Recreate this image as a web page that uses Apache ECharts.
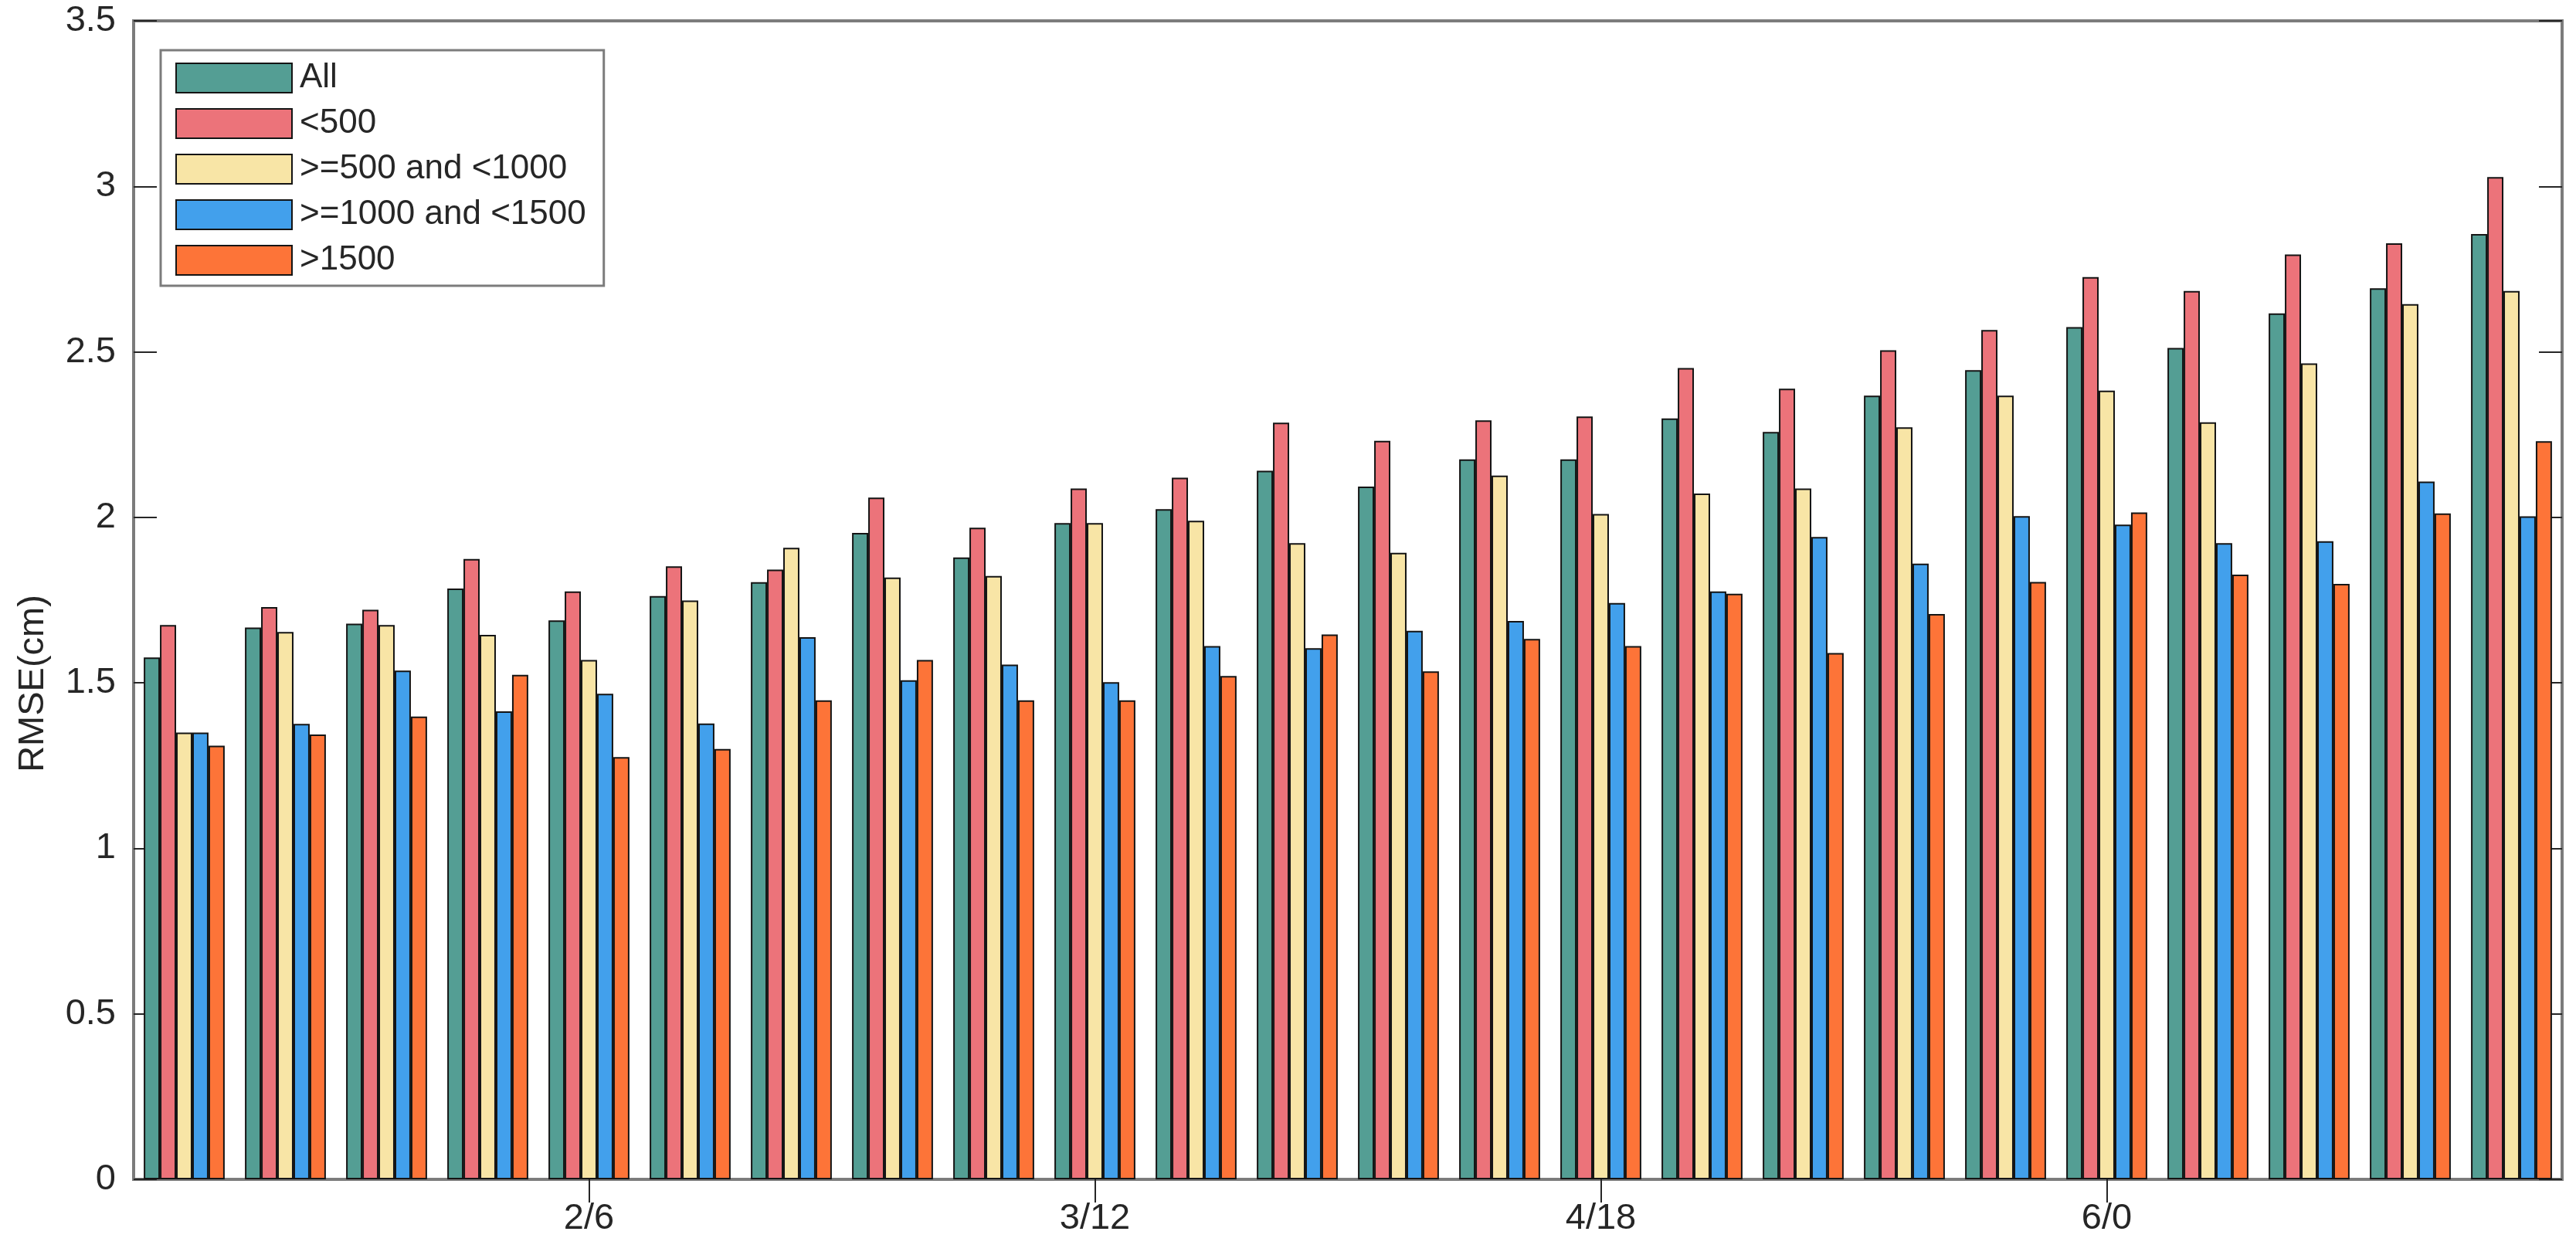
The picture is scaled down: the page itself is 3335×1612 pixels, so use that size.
<!DOCTYPE html>
<html>
<head>
<meta charset="utf-8">
<script src="https://cdn.jsdelivr.net/npm/echarts@6/dist/echarts.min.js"></script>
<style>
html,body{margin:0;padding:0;background:#fff;}
#chart{width:3335px;height:1612px;}
</style>
</head>
<body>
<div id="chart"></div>
<script>
// Time categories (day/hour), 6-hour steps
const categories = ["1/6","1/12","1/18","2/0","2/6","2/12","2/18","3/0","3/6","3/12","3/18","4/0",
                    "4/6","4/12","4/18","5/0","5/6","5/12","5/18","6/0","6/6","6/12","6/18","7/0"];
const shownTickIndices = [4, 9, 14, 19];

const seriesNames = ["All", "<500", ">=500 and <1000", ">=1000 and <1500", ">1500"];

const valuesAll = [1.577,1.667,1.679,1.785,1.689,1.762,1.804,1.953,1.879,1.983,2.025,2.141,
                   2.093,2.175,2.175,2.299,2.258,2.368,2.445,2.575,2.512,2.616,2.692,2.856];
const valuesLt500 = [1.675,1.729,1.721,1.874,1.776,1.852,1.842,2.060,1.969,2.087,2.120,2.286,
                     2.231,2.293,2.305,2.451,2.389,2.505,2.566,2.726,2.684,2.794,2.828,3.028];
const values500to1000 = [1.350,1.654,1.675,1.645,1.569,1.749,1.908,1.818,1.823,1.983,1.990,1.922,
                         1.893,2.126,2.010,2.072,2.087,2.272,2.368,2.383,2.287,2.465,2.644,2.684];
const values1000to1500 = [1.350,1.376,1.537,1.414,1.467,1.377,1.638,1.508,1.555,1.502,1.611,1.605,
                          1.657,1.687,1.741,1.776,1.941,1.860,2.004,1.978,1.922,1.928,2.108,2.003];
const valuesGt1500 = [1.310,1.344,1.398,1.524,1.276,1.300,1.447,1.569,1.447,1.447,1.521,1.646,
                      1.535,1.633,1.611,1.769,1.590,1.708,1.805,2.015,1.827,1.799,2.012,2.230];

const yMin = 0, yMax = 3.5, yStep = 0.5;
const yAxisTitle = "RMSE(cm)";

const colors = ["#549E94", "#EC737A", "#F8E5A6", "#42A0EC", "#FD7438"];
const dataSets = [valuesAll, valuesLt500, values500to1000, values1000to1500, valuesGt1500];

const FONT = "'Liberation Sans', Arial, Helvetica, sans-serif";
const TXT = "#262626";

const chart = echarts.init(document.getElementById('chart'), null, {renderer: 'canvas'});

const tickInterval = function (idx) { return shownTickIndices.indexOf(idx) >= 0; };

const option = {
  animation: false,
  backgroundColor: '#ffffff',
  grid: {
    left: 173, top: 27, right: 18, bottom: 85,
    show: true, borderColor: '#7c7c7c', borderWidth: 4, backgroundColor: '#ffffff'
  },
  legend: {
    orient: 'vertical',
    left: 208, top: 65,
    padding: [14, 23, 11, 19],
    itemWidth: 150, itemHeight: 38, itemGap: 15,
    backgroundColor: '#ffffff',
    borderColor: '#7c7c7c', borderWidth: 3, borderRadius: 0,
    icon: 'rect',
    textStyle: { fontFamily: FONT, fontSize: 44, color: TXT, padding: [0, 0, 0, 5] },
    data: seriesNames
  },
  xAxis: [
    {
      type: 'category', data: categories, position: 'bottom',
      boundaryGap: true,
      axisLine: { show: false },
      axisTick: { show: true, inside: true, length: 30, alignWithLabel: true, interval: tickInterval,
                  lineStyle: { color: TXT, width: 2 } },
      axisLabel: { show: true, interval: tickInterval, margin: 28,
                   fontFamily: FONT, fontSize: 47, color: TXT },
      splitLine: { show: false }
    },
    {
      type: 'category', data: categories, position: 'top',
      boundaryGap: true,
      axisLine: { show: false },
      axisTick: { show: true, inside: true, length: 30, alignWithLabel: true, interval: tickInterval,
                  lineStyle: { color: TXT, width: 2 } },
      axisLabel: { show: false },
      splitLine: { show: false }
    }
  ],
  yAxis: [
    {
      type: 'value', min: yMin, max: yMax, interval: yStep, position: 'left',
      axisLine: { show: false },
      axisTick: { show: true, inside: true, length: 30, lineStyle: { color: TXT, width: 2 } },
      axisLabel: { margin: 23, fontFamily: FONT, fontSize: 47, color: TXT },
      splitLine: { show: false }
    },
    {
      type: 'value', min: yMin, max: yMax, interval: yStep, position: 'right',
      axisLine: { show: false },
      axisTick: { show: true, inside: true, length: 30, lineStyle: { color: TXT, width: 2 } },
      axisLabel: { show: false },
      splitLine: { show: false }
    }
  ],
  graphic: [
    {
      type: 'text',
      x: 43, y: 885,
      rotation: Math.PI / 2,
      style: {
        text: yAxisTitle, fontFamily: FONT, fontSize: 47, fill: TXT,
        textAlign: 'center', textVerticalAlign: 'middle'
      }
    }
  ],
  series: seriesNames.map(function (name, i) {
    return {
      name: name,
      type: 'bar',
      xAxisIndex: 0, yAxisIndex: 0,
      data: dataSets[i],
      barGap: '0%',
      barCategoryGap: '20%',
      itemStyle: { color: colors[i], borderColor: '#141414', borderWidth: 2 },
      emphasis: { disabled: true }
    };
  })
};

chart.setOption(option);
</script>
</body>
</html>
